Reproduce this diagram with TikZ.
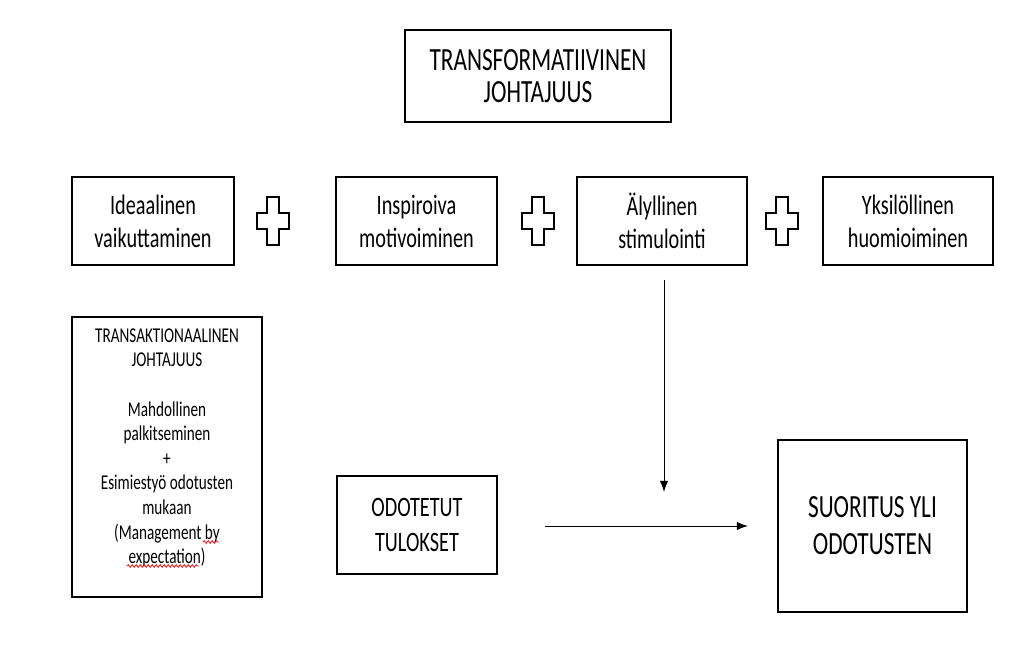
\documentclass[tikz,border=0pt]{standalone}
\usepackage{fontspec}
\setmainfont{Carlito}[FakeStretch=0.72]
\usetikzlibrary{arrows.meta,positioning,decorations.pathmorphing}

\begin{document}
\begin{tikzpicture}[x=0.025cm,y=-0.025cm]
		\tikzstyle{box}=[draw=black, line width=0.9pt, align=center, inner sep=0pt]
		\tikzstyle{part}=[box, minimum height=2.2cm, font=\fontsize{20}{23.5}\selectfont]
		\tikzstyle{plus}=[draw=black, line width=0.9pt]
		\tikzstyle{arr}=[draw=black, line width=0.7pt, -{Latex[length=2.8mm,width=2.1mm]}]
		\useasboundingbox (0,0) rectangle (1032,651);
		
		% Transformational leadership
		\node[box, minimum width=6.65cm, minimum height=2.3cm, font=\fontsize{23}{22.5}\selectfont] (trans) at (538,76) {TRANSFORMATIIVINEN\\JOHTAJUUS};
		
		% Four parts
		\node[part, minimum width=4.05cm] (ideal) at (153,221) {Ideaalinen\\vaikuttaminen};
		\node[part, minimum width=4.025cm] (inspir) at (416.5,221) {Inspiroiva\\motivoiminen};
		\node[part, minimum width=4.25cm] (alyl) at (662,221) {Älyllinen\\stimulointi};
		\node[part, minimum width=4.25cm] (yksil) at (908,221) {Yksilöllinen\\huomioiminen};
		
		% Plus signs
		\foreach \x in {273,538,782}
		\draw[plus] (\x,221) +(-6,-24) -- +(6,-24) -- +(6,-8) -- +(16,-8) -- +(16,8) -- +(6,8) -- +(6,24) -- +(-6,24) -- +(-6,8) -- +(-16,8) -- +(-16,-8) -- +(-6,-8) -- cycle;
		
		% Transactional leadership
		\node[box, minimum width=4.75cm, minimum height=7cm] (transak) at (167,457) {};
		\node[align=center, inner sep=0pt, font=\fontsize{15}{17.5}\selectfont, below=0.3cm of transak.north] (transak_txt) {TRANSAKTIONAALINEN\\JOHTAJUUS\\[17.5pt]Mahdollinen\\palkitseminen\\+\\Esimiestyö odotusten\\mukaan\\(Management by\\expectation)};
		\draw[red, line width=0.5pt, decorate, decoration={snake, amplitude=0.35mm, segment length=1mm}] (203,542) -- (219,542);
		\draw[red, line width=0.5pt, decorate, decoration={snake, amplitude=0.35mm, segment length=1mm}] (127,566) -- (199,566);
		
		% Results
		\node[box, minimum width=4cm, minimum height=2.45cm, font=\fontsize{20}{24.8}\selectfont] (odot) at (417,525) {ODOTETUT\\TULOKSET};
		\node[box, minimum width=4.725cm, minimum height=4.3cm, font=\fontsize{23}{26.2}\selectfont] (suor) at (872.5,526) {SUORITUS YLI\\ODOTUSTEN};
		
		% Arrows
		\coordinate (down_start) at (664,280);
		\coordinate (down_end) at (664,492);
		\coordinate (right_start) at (545,526);
		\coordinate (right_end) at (748,526);
		\draw[arr] (down_start) -- (down_end);
		\draw[arr] (right_start) -- (right_end);
\end{tikzpicture}
\end{document}
